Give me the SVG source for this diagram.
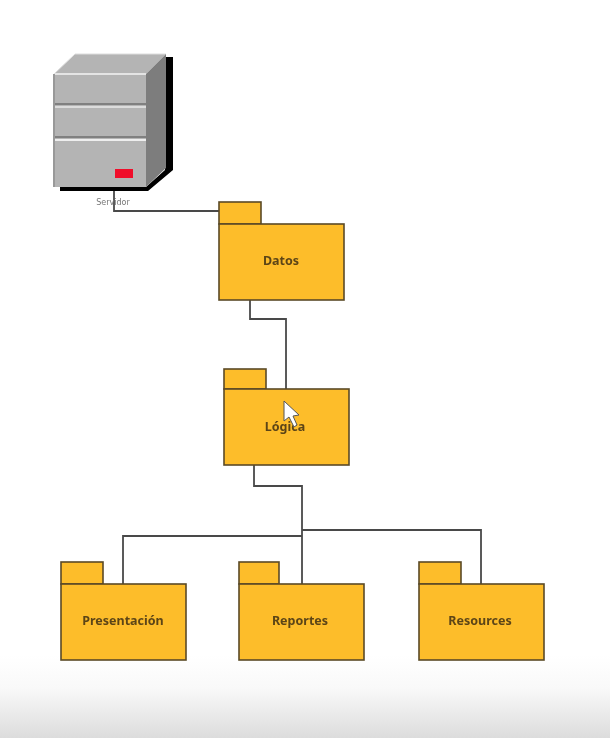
<svg xmlns="http://www.w3.org/2000/svg" width="610" height="738" viewBox="0 0 610 738">
<style>
.b{fill:#fdbd2c;stroke:#5a4a28;stroke-width:1.6}
.c{fill:none;stroke:#4a4a4a;stroke-width:1.8}
.t{font-family:"Noto Sans","Liberation Sans",sans-serif;font-weight:700;font-size:12.5px;fill:#5c4518;text-anchor:middle}
</style>
<defs><linearGradient id="g" x1="0" y1="0" x2="0" y2="1"><stop offset="0" stop-color="#fff"/><stop offset="0.4" stop-color="#f9f9f9"/><stop offset="1" stop-color="#dcdcdc"/></linearGradient>
<filter id="s" x="-5%" y="-5%" width="110%" height="110%"><feGaussianBlur stdDeviation="0.7"/></filter>
<filter id="n" x="-5%" y="-5%" width="110%" height="110%"><feGaussianBlur stdDeviation="0.4"/></filter></defs>
<rect width="610" height="738" fill="#fff"/>
<rect y="655" width="610" height="83" fill="url(#g)"/>
<g id="connectors" filter="url(#n)">
<path class="c" d="M114 186V211H219"/>
<path class="c" d="M250 300V319H286V389"/>
<path class="c" d="M254 465V486H302V584"/>
<path class="c" d="M123 584V536H302"/>
<path class="c" d="M302 530H481V584"/>
</g>
<g id="servidor" filter="url(#s)">
<path d="M60 187V191H148L173 170V57H165V170L146 187Z" fill="#000"/>
<path d="M54 74L75 54H166L146 74Z" fill="#b4b4b4" stroke="#ddd"/>
<path d="M146 74L166 54V168L146 187Z" fill="#7d7d7d"/>
<rect x="54" y="74" width="92" height="113" fill="#b4b4b4"/>
<path d="M54 74H146" stroke="#e4e4e4" stroke-width="2"/>
<path d="M54 104H146" stroke="#808080" stroke-width="2"/>
<path d="M54 107H146" stroke="#dcdcdc" stroke-width="2"/>
<path d="M54 137H146" stroke="#808080" stroke-width="2"/>
<path d="M54 140H146" stroke="#eee" stroke-width="2"/>
<path d="M54 74V187" stroke="#999" stroke-width="2"/>
<rect x="115" y="169" width="18" height="9" fill="#f0102a"/>
<text x="113" y="205" font-family="'DejaVu Sans',sans-serif" font-size="8" fill="#777" text-anchor="middle">Servidor</text>
</g>
<g id="datos" filter="url(#n)"><rect class="b" x="219" y="202" width="42" height="22"/><rect class="b" x="219" y="224" width="125" height="76"/><text class="t" x="281" y="265">Datos</text></g>
<g id="logica" filter="url(#n)"><rect class="b" x="224" y="369" width="42" height="20"/><rect class="b" x="224" y="389" width="125" height="76"/><text class="t" x="285" y="431">Lógica</text></g>
<g id="presentacion" filter="url(#n)"><rect class="b" x="61" y="562" width="42" height="22"/><rect class="b" x="61" y="584" width="125" height="76"/><text class="t" x="123" y="625">Presentación</text></g>
<g id="reportes" filter="url(#n)"><rect class="b" x="239" y="562" width="40" height="22"/><rect class="b" x="239" y="584" width="125" height="76"/><text class="t" x="300" y="625">Reportes</text></g>
<g id="resources" filter="url(#n)"><rect class="b" x="419" y="562" width="42" height="22"/><rect class="b" x="419" y="584" width="125" height="76"/><text class="t" x="480" y="625">Resources</text></g>
<path d="M284 401V421L289 417L294 427L297 425L293 416L299 415Z" fill="#fff" stroke="#555" stroke-width="1"/>
</svg>
